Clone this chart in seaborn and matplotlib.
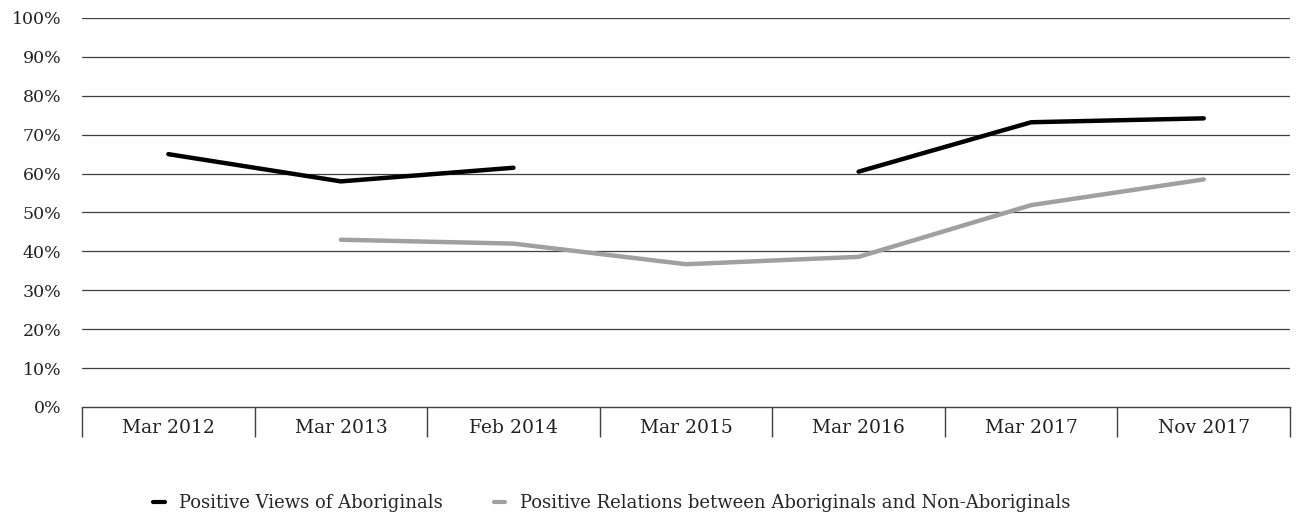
import matplotlib
matplotlib.use("Agg")
import matplotlib.pyplot as plt
import seaborn as sns
import numpy as np
import pandas as pd
from matplotlib.lines import Line2D

# Data
periods = ["Mar 2012", "Mar 2013", "Feb 2014", "Mar 2015", "Mar 2016", "Mar 2017", "Nov 2017"]
views_label = "Positive Views of Aboriginals"
relations_label = "Positive Relations between Aboriginals and Non-Aboriginals"
positive_views = [65.0, 58.0, 61.5, np.nan, 60.5, 73.2, 74.2]
positive_relations = [np.nan, 43.0, 42.0, 36.7, 38.6, 51.9, 58.5]
colors = {views_label: "#000000", relations_label: "#a0a0a0"}

sns.set_theme(style="white")
plt.rcParams['font.family'] = ['DejaVu Serif']


def to_long(values, name):
    # split into contiguous runs so missing points leave a gap
    rows, seg = [], 0
    for i, v in enumerate(values):
        if np.isnan(v):
            seg += 1
            continue
        rows.append({"pos": i, "value": v, "series": name, "seg": seg})
    return rows


df = pd.DataFrame(to_long(positive_views, views_label) + to_long(positive_relations, relations_label))

fig = plt.figure(figsize=(12.96, 5.23), dpi=100)
ax = fig.add_axes([0.0633, 0.2218, 0.9321, 0.7438])

for y in range(10, 101, 10):
    ax.axhline(y, color="#404040", lw=0.9, zorder=1)

sns.lineplot(data=df, x="pos", y="value", hue="series", units="seg", estimator=None,
             palette=colors, linewidth=3.2, legend=False, ax=ax, zorder=3)

ax.set_xlim(-0.5, len(periods) - 0.5)
ax.set_ylim(0, 100)
ax.set_yticks(range(0, 101, 10))
ax.set_yticklabels([f"{v}%" for v in range(0, 101, 10)], fontsize=12.5, color="#222222")
ax.tick_params(axis="y", left=False, length=0, pad=15)

# category boxes under the axis
ax.set_xticks(np.arange(-0.5, len(periods)), labels=[""] * (len(periods) + 1))
ax.set_xticks(np.arange(len(periods)), labels=periods, minor=True)
ax.tick_params(axis="x", which="major", bottom=True, direction="out", length=21.6, width=1, color="#404040")
ax.tick_params(axis="x", which="minor", bottom=True, length=0, pad=9, labelsize=13.5, labelcolor="#222222")
ax.set_xlabel("")
ax.set_ylabel("")

for side in ["top", "right", "left"]:
    ax.spines[side].set_visible(False)
ax.spines["bottom"].set_color("#404040")
ax.spines["bottom"].set_linewidth(1)

handles = [Line2D([0], [0], color=colors[views_label], lw=3),
           Line2D([0], [0], color=colors[relations_label], lw=3)]
fig.legend(handles, [views_label, relations_label], loc="center", bbox_to_anchor=(0.472, 0.038),
           ncol=2, frameon=False, handlelength=0.65, handletextpad=0.8, columnspacing=2.8,
           prop={"family": "DejaVu Serif", "size": 13})

fig.savefig("out.png", dpi=100)
